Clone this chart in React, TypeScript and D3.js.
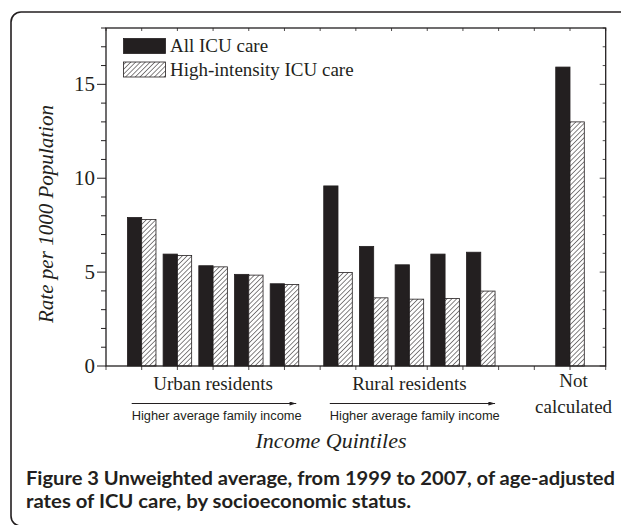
import React from "react";
import * as d3 from "d3";

// slot positions on the x axis (one unit per tick)
const positions = [1, 2, 3, 4, 5, 6.5, 7.5, 8.5, 9.5, 10.5, 13];
const allIcu = [7.91, 5.96, 5.34, 4.88, 4.38, 9.59, 6.37, 5.39, 5.96, 6.06, 15.92];
const highIntensity = [7.8, 5.89, 5.28, 4.84, 4.34, 4.98, 3.63, 3.56, 3.6, 3.99, 13.0];
const seriesNames = ["All ICU care", "High-intensity ICU care"];
const yMajor = [0, 5, 10, 15];

const groups = [
  { label: ["Urban residents"], at: 3, arrow: [0.72, 5.33] },
  { label: ["Rural residents"], at: 8.5, arrow: [6.27, 10.9] },
  { label: ["Not", "calculated"], at: 13.1, arrow: null },
];

const W = 621;
const H = 525;
const ink = "#231f20";
const serif = "'Liberation Serif', 'Times New Roman', serif";
const sans = "'Liberation Sans', Arial, sans-serif";

export default function App() {
  const x = d3.scaleLinear().domain([0, 14]).range([106, 605.7]);
  const y = d3.scaleLinear().domain([0, 18]).range([366, 28]);
  const barW = x(0.4) - x(0);
  const minor = d3.range(0, 19);
  const xTicks = d3.range(0, 15);
  const [x0, x1] = x.range();
  const [yb, yt] = y.range();

  return (
    <svg width={W} height={H} style={{ position: "absolute", left: 0, top: 0 }}>
      <defs>
        <pattern id="hatch" width="3.4" height="3.4" patternUnits="userSpaceOnUse" patternTransform="rotate(45)">
          <rect width="3.4" height="3.4" fill="#fff" />
          <line x1="0" y1="0" x2="0" y2="3.4" stroke={ink} strokeWidth="1.1" />
        </pattern>
        <marker id="arr" viewBox="0 0 10 6" refX="10" refY="3" markerWidth="7" markerHeight="4" orient="auto" markerUnits="userSpaceOnUse">
          <path d="M0,0 L10,3 L0,6 Z" fill={ink} />
        </marker>
      </defs>
      <rect x={0} y={0} width={W} height={H} fill="#fff" />
      <rect x={11} y={12} width={700} height={514} rx={10} fill="none" stroke={ink} strokeWidth={1.6} />

      {/* bars */}
      {positions.map((p, i) => (
        <g key={i}>
          <rect x={x(p) - barW} y={y(allIcu[i])} width={barW} height={y(0) - y(allIcu[i])} fill={ink} stroke={ink} strokeWidth={0.8} />
          <rect x={x(p)} y={y(highIntensity[i])} width={barW} height={y(0) - y(highIntensity[i])} fill="url(#hatch)" stroke={ink} strokeWidth={0.8} />
        </g>
      ))}

      {/* frame */}
      <rect x={x0} y={yt} width={x1 - x0} height={yb - yt} fill="none" stroke={ink} strokeWidth={1.3} />

      {/* y ticks */}
      {minor.map((v) => {
        const major = v % 5 === 0;
        return (
          <g key={v}>
            <line x1={x0 - (major ? 9 : 5)} x2={x0} y1={y(v)} y2={y(v)} stroke={ink} strokeWidth={1} />
            <line x1={x1 - (major ? 6 : 3)} x2={x1} y1={y(v)} y2={y(v)} stroke={ink} strokeWidth={0.8} />
          </g>
        );
      })}
      {yMajor.map((v) => (
        <text key={v} x={x0 - 11} y={y(v) + 7} textAnchor="end" fontFamily={serif} fontSize={21} fill={ink}>
          {v}
        </text>
      ))}

      {/* x ticks */}
      {xTicks.map((v) => (
        <g key={v}>
          <line x1={x(v)} x2={x(v)} y1={yb} y2={yb + 4} stroke={ink} strokeWidth={0.8} />
          <line x1={x(v)} x2={x(v)} y1={yt} y2={yt + 3} stroke={ink} strokeWidth={0.8} />
        </g>
      ))}

      {/* legend */}
      <rect x={123.5} y={38.5} width={42} height={15} fill={ink} stroke={ink} strokeWidth={0.8} />
      <rect x={123.5} y={62} width={42} height={15} fill="url(#hatch)" stroke={ink} strokeWidth={0.8} />
      <text x={170} y={52} fontFamily={serif} fontSize={19} fill={ink}>{seriesNames[0]}</text>
      <text x={170} y={76} fontFamily={serif} fontSize={19} fill={ink}>{seriesNames[1]}</text>

      {/* group labels */}
      {groups.map((g, i) => (
        <g key={i}>
          {g.label.length === 1 ? (
            <text x={x(g.at)} y={390} textAnchor="middle" fontFamily={serif} fontSize={19} fill={ink}>{g.label[0]}</text>
          ) : (
            <>
              <text x={x(g.at)} y={387} textAnchor="middle" fontFamily={serif} fontSize={19} fill={ink}>{g.label[0]}</text>
              <text x={x(g.at)} y={413} textAnchor="middle" fontFamily={serif} fontSize={19} fill={ink}>{g.label[1]}</text>
            </>
          )}
          {g.arrow && (
            <>
              <line x1={x(g.arrow[0])} x2={x(g.arrow[1])} y1={403.5} y2={403.5} stroke={ink} strokeWidth={1} markerEnd="url(#arr)" />
              <text x={x(g.arrow[0])} y={420} fontFamily={sans} fontSize={12.5} fill={ink} textLength={170} lengthAdjust="spacingAndGlyphs">
                Higher average family income
              </text>
            </>
          )}
        </g>
      ))}

      {/* axis titles */}
      <text x={331} y={448} textAnchor="middle" fontFamily={serif} fontStyle="italic" fontSize={22} fill={ink}>Income Quintiles</text>
      <text transform="translate(53,214) rotate(-90)" textAnchor="middle" fontFamily={serif} fontStyle="italic" fontSize={20} fill={ink} textLength={218} lengthAdjust="spacingAndGlyphs">
        Rate per 1000 Population
      </text>

      {/* caption */}
      <text x={26} y={485} fontFamily="Lato, 'Open Sans', sans-serif" fontWeight="bold" fontSize={19} fill={ink} textLength={589} lengthAdjust="spacingAndGlyphs">
        Figure 3 Unweighted average, from 1999 to 2007, of age-adjusted
      </text>
      <text x={26} y={508} fontFamily="Lato, 'Open Sans', sans-serif" fontWeight="bold" fontSize={19} fill={ink} textLength={385} lengthAdjust="spacingAndGlyphs">
        rates of ICU care, by socioeconomic status.
      </text>
    </svg>
  );
}
